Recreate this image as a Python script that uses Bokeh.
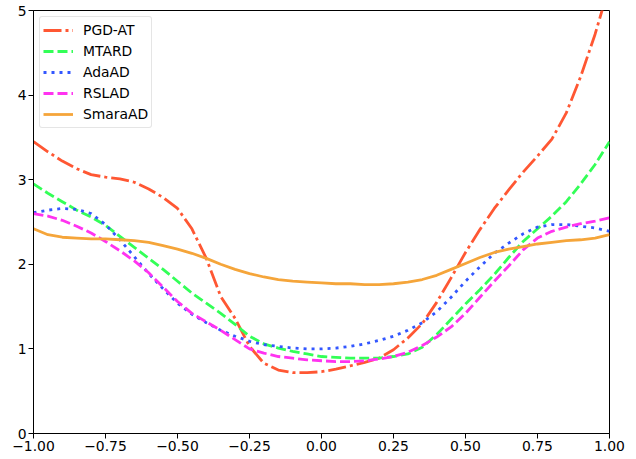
from bokeh.plotting import figure
from bokeh.models import Range1d, FixedTicker
from bokeh.embed import file_html
from bokeh.resources import INLINE

x = [-1.00, -0.95, -0.90, -0.85, -0.80, -0.75, -0.70, -0.65, -0.60, -0.55,
     -0.50, -0.45, -0.40, -0.35, -0.30, -0.25, -0.20, -0.15, -0.10, -0.05,
     0.00, 0.05, 0.10, 0.15, 0.20, 0.25, 0.30, 0.35, 0.40, 0.45,
     0.50, 0.55, 0.60, 0.65, 0.70, 0.75, 0.80, 0.85, 0.90, 0.95, 1.00]

pgd_at = [3.45, 3.33, 3.22, 3.13, 3.06, 3.03, 3.01, 2.97, 2.89, 2.79,
          2.66, 2.42, 2.07, 1.62, 1.36, 1.03, 0.83, 0.75, 0.72, 0.72,
          0.73, 0.76, 0.80, 0.84, 0.89, 0.99, 1.13, 1.30, 1.55, 1.84,
          2.14, 2.41, 2.66, 2.88, 3.09, 3.28, 3.48, 3.79, 4.22, 4.72, 5.30]

mtard = [2.95, 2.84, 2.74, 2.64, 2.56, 2.46, 2.33, 2.20, 2.07, 1.94,
         1.80, 1.66, 1.54, 1.42, 1.29, 1.15, 1.06, 1.01, 0.97, 0.94,
         0.91, 0.90, 0.89, 0.89, 0.89, 0.91, 0.94, 1.02, 1.17, 1.35,
         1.53, 1.70, 1.88, 2.08, 2.27, 2.42, 2.57, 2.74, 2.95, 3.18, 3.45]

adaad = [2.61, 2.64, 2.66, 2.65, 2.60, 2.47, 2.29, 2.09, 1.89, 1.71,
         1.54, 1.41, 1.31, 1.22, 1.15, 1.09, 1.05, 1.03, 1.01, 1.00,
         1.00, 1.01, 1.03, 1.06, 1.10, 1.15, 1.22, 1.31, 1.44, 1.61,
         1.80, 1.97, 2.13, 2.25, 2.36, 2.44, 2.47, 2.47, 2.45, 2.43, 2.39]

rslad = [2.60, 2.57, 2.52, 2.45, 2.37, 2.27, 2.16, 2.04, 1.90, 1.73,
         1.56, 1.42, 1.32, 1.22, 1.11, 1.00, 0.95, 0.91, 0.89, 0.87,
         0.86, 0.85, 0.85, 0.86, 0.88, 0.91, 0.96, 1.04, 1.14, 1.26,
         1.42, 1.61, 1.80, 1.98, 2.17, 2.31, 2.39, 2.44, 2.48, 2.51, 2.55]

smaraad = [2.42, 2.35, 2.32, 2.31, 2.30, 2.30, 2.29, 2.28, 2.26, 2.22,
           2.18, 2.13, 2.07, 2.00, 1.94, 1.89, 1.85, 1.82, 1.80, 1.79,
           1.78, 1.77, 1.77, 1.76, 1.76, 1.77, 1.79, 1.82, 1.87, 1.94,
           2.01, 2.08, 2.14, 2.18, 2.21, 2.24, 2.26, 2.28, 2.29, 2.31, 2.35]

series_names = ["PGD-AT", "MTARD", "AdaAD", "RSLAD", "SmaraAD"]
series_values = [pgd_at, mtard, adaad, rslad, smaraad]
series_colors = ["#FF5733", "#33FF57", "#3357FF", "#FF33F0", "#F5A53A"]
series_dashes = ["18 4 3 4", "10 4", "3 5", "10 4", "solid"]

xticks = [-1.0, -0.75, -0.5, -0.25, 0.0, 0.25, 0.5, 0.75, 1.0]
xtick_labels = ["\u22121.00", "\u22120.75", "\u22120.50", "\u22120.25", "0.00",
                "0.25", "0.50", "0.75", "1.00"]
yticks = [0, 1, 2, 3, 4, 5]

FONT = "DejaVu Sans"
FS = "13.9px"

p = figure(width=628, height=456, output_backend="svg", toolbar_location=None,
           x_range=Range1d(-1, 1), y_range=Range1d(0, 5),
           min_border_left=33, min_border_right=19, min_border_top=10,
           min_border_bottom=23)
p.background_fill_color = "white"
p.border_fill_color = "white"
p.outline_line_color = "black"
p.outline_line_width = 1
p.xgrid.visible = False
p.ygrid.visible = False

for ax in (p.xaxis[0], p.yaxis[0]):
    ax.axis_line_color = "black"
    ax.axis_line_width = 1
    ax.major_tick_line_color = "black"
    ax.major_tick_in = 0
    ax.major_tick_out = 5
    ax.minor_tick_line_color = None
    ax.major_label_text_font = FONT
    ax.major_label_text_font_size = FS
    ax.major_label_text_color = "black"
    ax.major_label_standoff = 2

p.xaxis[0].ticker = FixedTicker(ticks=xticks)
p.xaxis[0].major_label_overrides = {t: l for t, l in zip(xticks, xtick_labels)}
p.yaxis[0].ticker = FixedTicker(ticks=yticks)

for name, vals, col, dash in zip(series_names, series_values, series_colors, series_dashes):
    p.line(x, vals, line_color=col, line_width=2.8, line_dash=dash,
           line_join="round", legend_label=name)

lg = p.legend[0]
lg.location = "top_left"
lg.margin = 6
lg.padding = 3
lg.spacing = 1
lg.glyph_width = 30
lg.glyph_height = 20
lg.label_height = 20
lg.label_standoff = 10
lg.label_text_font = FONT
lg.label_text_font_size = FS
lg.label_text_color = "black"
lg.border_line_color = "#cccccc"
lg.border_line_width = 1
lg.background_fill_color = "white"
lg.background_fill_alpha = 0.8
try:
    lg.border_radius = 3
except Exception:
    pass

open("out.html", "w").write(file_html(p, INLINE))
